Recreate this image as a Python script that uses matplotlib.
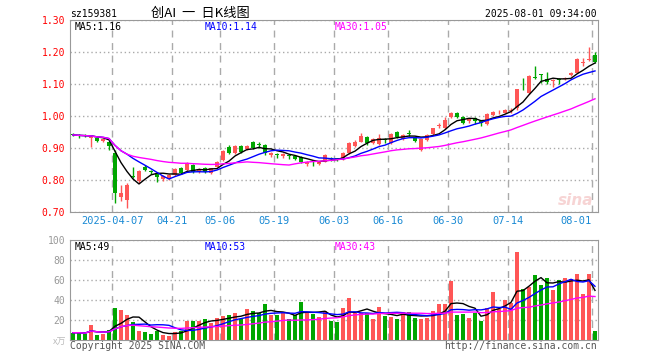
import numpy as np
import pandas as pd
import matplotlib
matplotlib.use('Agg')
import matplotlib.pyplot as plt

# trading days shown (2025-03-26 .. 2025-08-01, holidays removed)
holidays = ['2025-04-04', '2025-05-01', '2025-05-02', '2025-05-05', '2025-06-02']
dates = pd.bdate_range('2025-03-26', '2025-08-01').drop(pd.to_datetime(holidays))

# OHLC
opens = [0.943, 0.940, 0.939, 0.930, 0.930, 0.921, 0.918, 0.883, 0.748, 0.738,
         0.812, 0.798, 0.842, 0.828, 0.823, 0.802, 0.805, 0.816, 0.836, 0.831,
         0.847, 0.826, 0.839, 0.823, 0.842, 0.8625, 0.904, 0.885, 0.906, 0.898,
         0.920, 0.911, 0.909, 0.878, 0.879, 0.876, 0.876, 0.876, 0.873, 0.850,
         0.858, 0.850, 0.857, 0.868, 0.867, 0.865, 0.883, 0.906, 0.920, 0.933,
         0.917, 0.913, 0.926, 0.915, 0.951, 0.929, 0.947, 0.935, 0.894, 0.925,
         0.944, 0.968, 0.962, 0.996, 1.008, 0.998, 0.983, 0.995, 0.985, 0.975,
         1.003, 1.011, 1.010, 1.016, 1.024, 1.088, 1.073, 1.122, 1.130, 1.115,
         1.108, 1.116, 1.115, 1.128, 1.135, 1.166, 1.176, 1.190]
highs = [0.947, 0.944, 0.943, 0.937, 0.933, 0.929, 0.922, 0.894, 0.784, 0.792,
         0.842, 0.831, 0.846, 0.832, 0.826, 0.815, 0.820, 0.836, 0.840, 0.856,
         0.850, 0.837, 0.842, 0.839, 0.860, 0.893, 0.908, 0.908, 0.910, 0.908,
         0.923, 0.918, 0.912, 0.888, 0.883, 0.885, 0.879, 0.879, 0.876, 0.860,
         0.862, 0.858, 0.880, 0.871, 0.870, 0.886, 0.919, 0.925, 0.948, 0.936,
         0.932, 0.945, 0.932, 0.948, 0.953, 0.943, 0.955, 0.938, 0.929, 0.943,
         0.964, 0.978, 0.996, 1.014, 1.012, 1.001, 0.993, 0.998, 0.988, 1.009,
         1.016, 1.020, 1.022, 1.026, 1.085, 1.120, 1.128, 1.157, 1.132, 1.138,
         1.117, 1.120, 1.123, 1.138, 1.180, 1.180, 1.217, 1.200]
lows = [0.937, 0.932, 0.933, 0.904, 0.920, 0.918, 0.894, 0.727, 0.735, 0.711,
        0.805, 0.790, 0.828, 0.820, 0.795, 0.798, 0.800, 0.812, 0.818, 0.826,
        0.822, 0.822, 0.823, 0.818, 0.840, 0.860, 0.880, 0.880, 0.885, 0.894,
        0.898, 0.900, 0.878, 0.872, 0.868, 0.870, 0.866, 0.862, 0.852, 0.845,
        0.843, 0.847, 0.855, 0.860, 0.858, 0.862, 0.881, 0.903, 0.918, 0.910,
        0.914, 0.908, 0.915, 0.913, 0.932, 0.926, 0.937, 0.920, 0.892, 0.923,
        0.942, 0.963, 0.958, 0.993, 0.995, 0.976, 0.978, 0.975, 0.968, 0.972,
        1.000, 1.005, 1.008, 1.010, 1.020, 1.080, 1.070, 1.117, 1.102, 1.100,
        1.090, 1.100, 1.112, 1.125, 1.133, 1.155, 1.172, 1.167]
closes = [0.941, 0.938, 0.937, 0.935, 0.923, 0.927, 0.906, 0.758, 0.758, 0.784,
          0.810, 0.828, 0.832, 0.826, 0.808, 0.812, 0.816, 0.833, 0.821, 0.852,
          0.826, 0.833, 0.826, 0.836, 0.857, 0.891, 0.885, 0.906, 0.888, 0.906,
          0.901, 0.909, 0.885, 0.885, 0.877, 0.882, 0.874, 0.866, 0.855, 0.856,
          0.856, 0.855, 0.878, 0.866, 0.865, 0.883, 0.917, 0.920, 0.9375, 0.917,
          0.928, 0.932, 0.924, 0.943, 0.935, 0.940, 0.945, 0.923, 0.927, 0.940,
          0.961, 0.970, 0.987, 1.010, 0.998, 0.979, 0.990, 0.983, 0.977, 1.006,
          1.013, 1.013, 1.019, 1.018, 1.083, 1.086, 1.125, 1.120, 1.127, 1.107,
          1.112, 1.114, 1.120, 1.135, 1.177, 1.168, 1.178, 1.170]
# volume, 10k shares
volumes = [7.3, 7.3, 6, 15.3, 5.3, 6.3, 9.7, 32, 30, 25.3,
           18, 9, 8, 6, 8.7, 5.3, 4.3, 8, 9, 19,
           19, 19, 21, 17, 22, 24, 25, 27, 21, 31,
           29, 27, 36, 25, 25, 27, 21, 25, 38, 28,
           26, 23, 29, 19, 18, 32, 42, 27, 27, 27,
           21, 33, 24, 23, 21, 28, 28, 22, 21, 22,
           29, 36, 36, 59, 25, 26, 22, 27, 19, 32,
           48, 31, 40, 37, 88, 51, 53, 65, 55, 62,
           50, 60, 62, 61, 66, 46, 66, 9]

tick_dates = ['2025-04-07', '2025-04-21', '2025-05-06', '2025-05-19', '2025-06-03',
              '2025-06-16', '2025-06-30', '2025-07-14', '2025-08-01']

df = pd.DataFrame({'open': opens, 'high': highs, 'low': lows,
                   'close': closes, 'vol': volumes}, index=dates)
for n in (5, 10, 30):
    df[f'ma{n}'] = df['close'].rolling(n, min_periods=1).mean()
    df[f'vma{n}'] = df['vol'].rolling(n, min_periods=1).mean()

RED = '#ff5656'
GREEN = '#00a600'
GRID = '#aaaaaa'
MONO = 'DejaVu Sans Mono'
W, H = 660, 360

x = np.arange(len(df))
up = df['close'] >= df['open']
colors = np.where(up, RED, GREEN)

fig = plt.figure(figsize=(6.6, 3.6), dpi=100)
ax = fig.add_axes([70 / W, 1 - 212 / H, 528 / W, 192 / H])
axv = fig.add_axes([70 / W, 1 - 340 / H, 528 / W, 100 / H])

tick_idx = [dates.get_loc(pd.Timestamp(d)) - 0.5 for d in tick_dates]
tick_lab = [tick_dates[0]] + [d[5:] for d in tick_dates[1:]]

for a in (ax, axv):
    a.set_xlim(-0.5, len(df) - 0.5)
    for s in a.spines.values():
        s.set_color('#999999')
    a.set_xticks(tick_idx)
    a.tick_params(length=0)
    a.grid(axis='x', color=GRID, linestyle=(0, (5, 4)), linewidth=1)
    a.grid(axis='y', color=GRID, linestyle=(0, (1, 2)), linewidth=1)
    a.set_axisbelow(True)

# candles
ax.vlines(x, df['low'], df['high'], colors=colors, linewidth=1, zorder=2)
body = np.maximum((df['close'] - df['open']).abs(), 0.003)
ax.bar(x, body, bottom=np.minimum(df['open'], df['close']), width=0.78,
       color=colors, linewidth=0, zorder=3)
ax.plot(x, df['ma5'], color='black', lw=1, zorder=4)
ax.plot(x, df['ma10'], color='#0000ff', lw=1, zorder=4)
ax.plot(x, df['ma30'], color='#ff00ff', lw=1, zorder=4)

ax.set_ylim(0.70, 1.30)
ax.set_yticks(np.arange(0.70, 1.301, 0.10))
ax.set_yticklabels([f'{v:.2f}' for v in np.arange(0.70, 1.301, 0.10)],
                   color='red', family=MONO, fontsize=7)
ax.set_xticklabels(tick_lab, color='#1a8ad4', family=MONO, fontsize=7.5)
ax.tick_params(axis='x', pad=3)
ax.get_xticklabels()[-1].set_ha('right')

# volume
axv.bar(x, df['vol'], width=0.78, color=colors, linewidth=0, zorder=2)
axv.plot(x, df['vma5'], color='black', lw=1, zorder=3)
axv.plot(x, df['vma10'], color='#0000ff', lw=1, zorder=3)
axv.plot(x, df['vma30'], color='#ff00ff', lw=1, zorder=3)
axv.set_ylim(0, 100)
axv.set_yticks([20, 40, 60, 80, 100])
axv.set_yticklabels(['20', '40', '60', '80', '100'], color='#999999',
                    family=MONO, fontsize=7)
axv.set_xticklabels([])

def px_text(px, py, s, **kw):
    fig.text(px / W, 1 - py / H, s, **kw)

px_text(70, 17, 'sz159381', family=MONO, fontsize=7)
px_text(200, 17, '创AI  一  日K线图', family=['Noto Sans CJK SC', 'DejaVu Sans'],
        fontsize=9.5, ha='center')
px_text(597, 17, '2025-08-01 09:34:00', family=MONO, fontsize=7, ha='right')

px_text(75, 30, 'MA5:1.16', family=MONO, fontsize=7, color='black')
px_text(205, 30, 'MA10:1.14', family=MONO, fontsize=7, color='#0000ff')
px_text(335, 30, 'MA30:1.05', family=MONO, fontsize=7, color='#ff00ff')

px_text(75, 250, 'MA5:49', family=MONO, fontsize=7, color='black')
px_text(205, 250, 'MA10:53', family=MONO, fontsize=7, color='#0000ff')
px_text(335, 250, 'MA30:43', family=MONO, fontsize=7, color='#ff00ff')

px_text(66, 345, 'x万', family=['Noto Sans CJK SC', 'DejaVu Sans'],
        fontsize=6.5, color='#bbbbbb', ha='right')
px_text(70, 349, 'Copyright 2025 SINA.COM', family=MONO, fontsize=7, color='#555555')
px_text(597, 349, 'http://finance.sina.com.cn', family=MONO, fontsize=7,
        color='#555555', ha='right')
px_text(576, 205, 'sina', fontsize=11, fontweight='bold', fontstyle='italic',
        color='#f2b8b8', ha='center', alpha=0.6)

fig.savefig('out.png', dpi=100)
